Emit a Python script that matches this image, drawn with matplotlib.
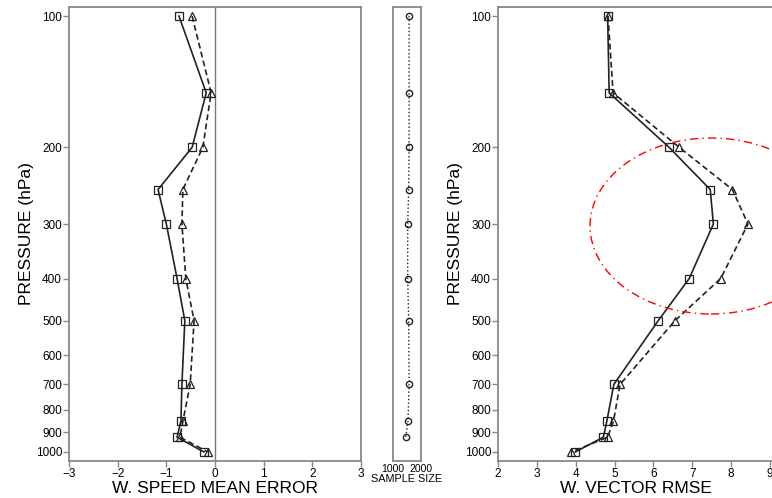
import numpy as np
import matplotlib.pyplot as plt
from matplotlib.patches import Ellipse
from matplotlib.ticker import FixedLocator, NullLocator

plt.rcParams['font.family'] = ['Liberation Sans', 'DejaVu Sans']

# pressure levels (hPa)
levels = [100, 150, 200, 250, 300, 400, 500, 700, 850, 925, 1000]
yticks = [100, 200, 300, 400, 500, 600, 700, 800, 900, 1000]

# wind speed mean error
me_solid = [-0.74, -0.18, -0.47, -1.17, -1.0, -0.78, -0.62, -0.68, -0.70, -0.78, -0.23]
me_dash = [-0.47, -0.08, -0.25, -0.66, -0.68, -0.60, -0.43, -0.51, -0.66, -0.72, -0.15]

# sample size (no 1000 hPa point)
ss_levels = [100, 150, 200, 250, 300, 400, 500, 700, 850, 925]
ss_values = [1575, 1575, 1575, 1560, 1525, 1525, 1560, 1575, 1535, 1455]

# wind vector rmse
rmse_solid = [4.82, 4.86, 6.40, 7.46, 7.54, 6.92, 6.12, 4.98, 4.80, 4.71, 3.99]
rmse_dash = [4.83, 4.96, 6.66, 8.03, 8.43, 7.73, 6.55, 5.14, 4.97, 4.82, 3.89]

W, H = 772, 498
fig = plt.figure(figsize=(W / 100, H / 100), dpi=100)

def frac(x0, x1):
    return [x0 / W, (H - 461) / H, (x1 - x0) / W, (461 - 7) / H]

ax1 = fig.add_axes(frac(69, 361))
ax2 = fig.add_axes(frac(393, 421))
ax3 = fig.add_axes(frac(498, 774))

spine_c = '#888888'
line_c = '#222222'

def style(ax, ylabels=True):
    ax.set_yscale('log')
    ax.set_ylim(1049, 95.3)
    ax.yaxis.set_major_locator(FixedLocator(yticks))
    ax.yaxis.set_minor_locator(NullLocator())
    if ylabels:
        ax.set_yticklabels([str(t) for t in yticks])
    for s in ax.spines.values():
        s.set_color(spine_c)
        s.set_linewidth(1.3)
    ax.tick_params(colors=spine_c, labelcolor='black', labelsize=8.5, length=4, width=1, pad=1)

def profiles(ax, xs, xd):
    ax.plot(xs, levels, '-', color=line_c, lw=1.2, marker='s', ms=6,
            mfc='none', mec=line_c, mew=0.9)
    ax.plot(xd, levels, '--', color=line_c, lw=1.2, marker='^', ms=6,
            mfc='none', mec=line_c, mew=0.9, dashes=(3.5, 2))

# left panel
style(ax1)
ax1.axvline(0, color='#777777', lw=1)
profiles(ax1, me_solid, me_dash)
ax1.set_xlim(-3, 3)
ax1.set_xticks([-3, -2, -1, 0, 1, 2, 3])
ax1.set_ylabel('PRESSURE (hPa)', fontsize=12.5, labelpad=1)
ax1.set_xlabel('W. SPEED MEAN ERROR', fontsize=12.5, labelpad=1)

# middle panel
style(ax2, ylabels=False)
ax2.tick_params(axis='y', left=False, labelleft=False)
ax2.plot(ss_values, ss_levels, ':', color=line_c, lw=1, marker='o', ms=4.5,
         mfc='none', mec=line_c, mew=1)
ax2.set_xlim(1000, 2000)
ax2.set_xticks([1000, 2000])
ax2.tick_params(axis='x', length=0, labelsize=7.5, pad=2)
ax2.set_xlabel('SAMPLE SIZE', fontsize=7.8, labelpad=0)

# right panel
style(ax3)
profiles(ax3, rmse_solid, rmse_dash)
ax3.set_xlim(2, 9.1)
ax3.set_xticks([2, 3, 4, 5, 6, 7, 8, 9])
ax3.set_ylabel('PRESSURE (hPa)', fontsize=12.5, labelpad=1)
ax3.set_xlabel('W. VECTOR RMSE', fontsize=12.5, labelpad=1)

# highlight ellipse
ell = Ellipse((711 / W, 1 - 226 / H), 242 / W, 176 / H, transform=fig.transFigure,
              fill=False, edgecolor='red', lw=1, linestyle=(0, (6, 3, 1, 3)), clip_on=False)
fig.patches.append(ell)

fig.savefig('out.png', dpi=100)
